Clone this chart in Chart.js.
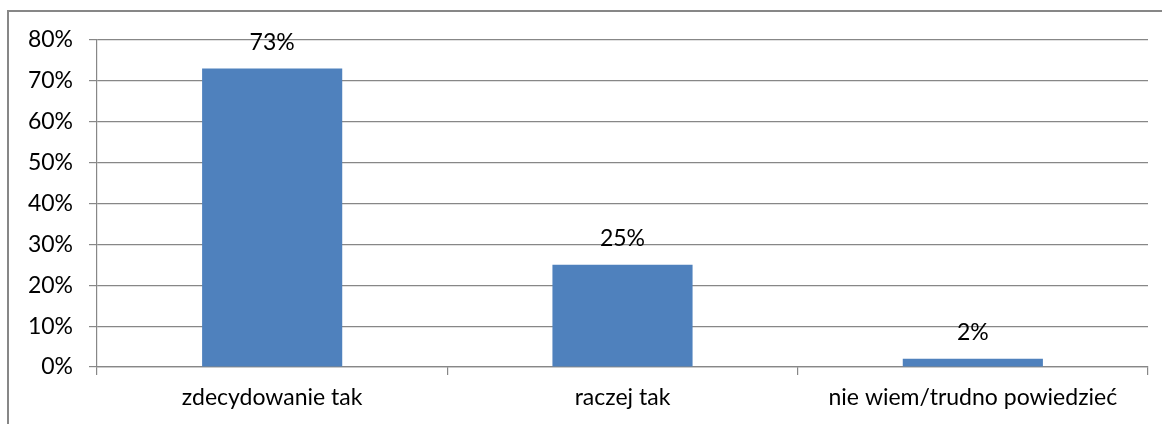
<!DOCTYPE html>
<html>
<head>
<meta charset="utf-8">
<script src="https://cdn.jsdelivr.net/npm/chart.js@4/dist/chart.umd.min.js"></script>
<style>
    html, body { margin: 0; padding: 0; background: #fff; }
    #wrap { position: relative; width: 1162px; height: 424px; overflow: hidden; }
    #frame {
        position: absolute; left: 7px; top: 10px; width: 1200px; height: 500px;
        border-left: 2px solid #878787; border-top: 2px solid #878787;
    }
    #chart { position: absolute; left: 0; top: 0; }
</style>
</head>
<body>
<div id="wrap">
    <div id="frame"></div>
    <canvas id="chart" width="1162" height="424"></canvas>
</div>
<script>
    const answers = ["zdecydowanie tak", "raczej tak", "nie wiem/trudno powiedzieć"];
    const shares = [73, 25, 2];
    const yTicks = [0, 10, 20, 30, 40, 50, 60, 70, 80];

    const FONT = { family: "Lato, sans-serif", size: 23 };
    const GRID = "#878787";

    // percent text over every bar
    const barLabels = {
        id: "barLabels",
        afterDatasetsDraw(chart) {
            const ctx = chart.ctx;
            const meta = chart.getDatasetMeta(0);
            ctx.save();
            ctx.font = `${FONT.size}px ${FONT.family}`;
            ctx.fillStyle = "#000";
            ctx.textAlign = "center";
            ctx.textBaseline = "alphabetic";
            meta.data.forEach((bar, i) => {
                ctx.fillText(shares[i] + "%", bar.x, bar.y - 19);
            });
            ctx.restore();
        }
    };

    new Chart(document.getElementById("chart"), {
        type: "bar",
        data: {
            labels: answers,
            datasets: [{
                data: shares,
                backgroundColor: "#4F81BD",
                borderWidth: 0,
                barPercentage: 0.4,
                categoryPercentage: 1
            }]
        },
        options: {
            responsive: false,
            animation: false,
            layout: { padding: { left: 0, right: 14, top: 40, bottom: 0 } },
            plugins: {
                legend: { display: false },
                tooltip: { enabled: false }
            },
            scales: {
                y: {
                    min: 0,
                    max: 80,
                    afterBuildTicks: (scale) => { scale.ticks = yTicks.map((v) => ({ value: v })); },
                    afterFit: (scale) => { scale.width = 97; },
                    ticks: {
                        callback: (v) => v + "%",
                        color: "#000",
                        font: FONT,
                        padding: 16
                    },
                    grid: { color: GRID, lineWidth: 1.2, tickLength: 8, tickColor: GRID },
                    border: { color: GRID, width: 1.2 }
                },
                x: {
                    afterFit: (scale) => { scale.height = 57; },
                    ticks: {
                        color: "#000",
                        font: FONT,
                        padding: 9
                    },
                    grid: {
                        offset: true,
                        drawOnChartArea: false,
                        tickLength: 8,
                        lineWidth: 1.2,
                        color: GRID
                    },
                    border: { color: GRID, width: 1.2 }
                }
            }
        },
        plugins: [barLabels]
    });
</script>
</body>
</html>
